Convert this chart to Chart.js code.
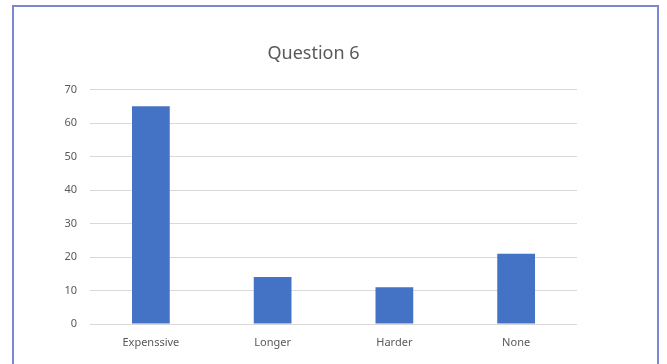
<!DOCTYPE html>
<html>
<head>
<meta charset="utf-8">
<title>Question 6</title>
<script src="https://cdn.jsdelivr.net/npm/chart.js@4/dist/chart.umd.min.js"></script>
<style>
  html, body { margin: 0; padding: 0; background: #ffffff; overflow: hidden; }
  #wrap { position: relative; width: 667px; height: 364px; }
  #frame {
    position: absolute; left: 12px; top: 5px; width: 647px; height: 400px;
    border: 2px solid #7a88d2; box-sizing: border-box; pointer-events: none;
  }
  #chart { position: absolute; left: 0; top: 0; }
</style>
</head>
<body>
<div id="wrap">
  <canvas id="chart" width="667" height="364"></canvas>
  <div id="frame"></div>
</div>
<script>
// dados
const categorias = ["Expenssive", "Longer", "Harder", "None"];
const valores = [65, 14, 11, 21];
const yTicks = [0, 10, 20, 30, 40, 50, 60, 70];

const corTexto = "#595959";
const fonte = "'Noto Sans', 'Open Sans', sans-serif";

new Chart(document.getElementById("chart"), {
    type: "bar",
    data: {
        labels: categorias,
        datasets: [{
            label: "Question 6",
            data: valores,
            backgroundColor: "#4472c4",
            borderWidth: 0,
            categoryPercentage: 1,
            barPercentage: 0.31
        }]
    },
    options: {
        responsive: false,
        animation: false,
        layout: { padding: { left: 50, right: 90, top: 0, bottom: 0 } },
        plugins: {
            legend: { display: false },
            tooltip: { enabled: false },
            title: {
                display: true,
                text: "Question 6",
                color: corTexto,
                font: { family: fonte, size: 18, weight: "normal" },
                padding: { top: 43, bottom: 25 }
            }
        },
        scales: {
            x: {
                grid: { display: false, drawTicks: false },
                border: { display: false },
                ticks: {
                    color: corTexto,
                    font: { family: fonte, size: 11 },
                    padding: 12,
                    maxRotation: 0
                },
                afterFit: (scale) => { scale.height = 40; }
            },
            y: {
                min: 0,
                max: 70,
                afterBuildTicks: (scale) => { scale.ticks = yTicks.map(v => ({ value: v })); },
                grid: { color: "#d9d9d9", lineWidth: 1, drawTicks: false },
                border: { display: false },
                ticks: {
                    color: corTexto,
                    font: { family: fonte, size: 11 },
                    padding: 13
                },
                afterFit: (scale) => { scale.width = 40; }
            }
        }
    }
});
</script>
</body>
</html>
